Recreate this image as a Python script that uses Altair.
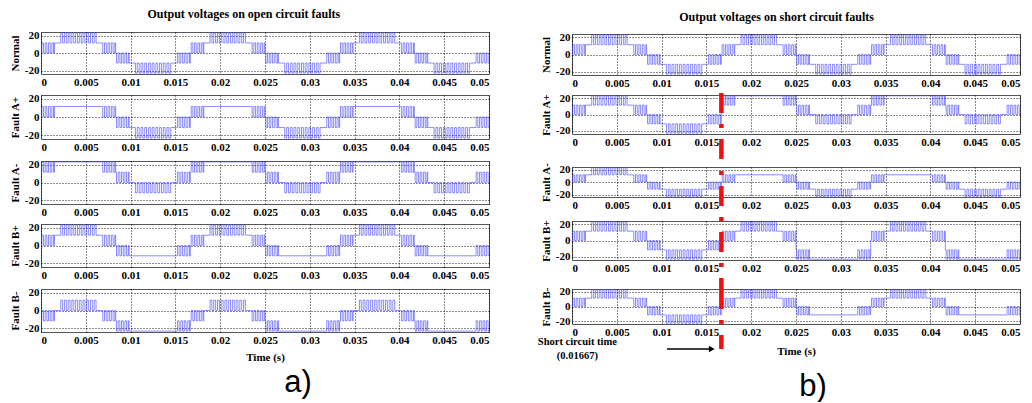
import altair as alt
import pandas as pd

# ---------------- data ----------------
T_MAX = 0.05
FAULT_T = 0.01667
HALF_MS = 8.3333                       # half period of the 60 Hz output (ms)
SEG_EDGES_MS = [0.0, 1.5, 2.1, 6.25, 6.8, 8.3333]   # switching bands inside a half cycle
SEG_PULSES = [4, 0, 10, 0, 4]          # PWM pulses seen in each band
L1 = 11.5
L2 = 23.0

# (resting level, pulse level) for the five bands of one half cycle
HALF_KINDS = {
    "P":  [(0, L1), (L1, L1), (L1, L2), (L1, L1), (L1, 0)],
    "N":  [(0, -L1), (-L1, -L1), (-L1, -L2), (-L1, -L1), (-L1, 0)],
    "Pc": [(0, L1), (L1, L1), (L1, L1), (L1, L1), (L1, 0)],
    "Nc": [(0, -L1), (-L1, -L1), (-L1, -L1), (-L1, -L1), (-L1, 0)],
    "Pu": [(L1, L2), (L2, L2), (L2, L2), (L2, L2), (L2, L1)],
    "Nu": [(L1, 0), (0, 0), (0, -L1), (0, 0), (0, L1)],
    "Pd": [(-L1, 0), (0, 0), (0, L1), (0, 0), (0, -L1)],
    "Nd": [(-L1, -L2), (-L2, -L2), (-L2, -L2), (-L2, -L2), (-L2, -L1)],
}

ROW_LABELS = ["Normal", "Fault A+", "Fault A-", "Fault B+", "Fault B-"]
OPEN_HALVES = [
    ["P", "N", "P", "N", "P", "N"],
    ["Pc", "N", "Pc", "N", "Pc", "N"],
    ["Pu", "Nu", "Pu", "Nu", "Pu", "Nu"],
    ["P", "Nc", "P", "Nc", "P", "Nc"],
    ["Pd", "Nd", "Pd", "Nd", "Pd", "Nd"],
]
SHORT_HALVES = [
    ["P", "N", "P", "N", "P", "N"],
    ["P", "N", "Pu", "Nu", "Pu", "Nu"],
    ["P", "N", "Pc", "N", "Pc", "N"],
    ["P", "N", "P", "Nd", "P", "Nd"],
    ["P", "N", "P", "Nc", "P", "Nc"],
]
X_TICKS = [0, 0.005, 0.01, 0.015, 0.02, 0.025, 0.03, 0.035, 0.04, 0.045, 0.05]
Y_TICKS = [-20, 0, 20]
ANNOT_TEXT = "Short circuit time\n(0.01667)"
ANNOT_X = 0.0006
ARROW_FROM = 0.0106
ARROW_TO = 0.0156

# ---------------- layout / style ----------------
W = 448
LEFT_H = [42, 44, 43, 43, 43]
LEFT_GAPS = [21, 22, 20, 22]
RIGHT_H = [41, 39, 30, 39, 35]
RIGHT_GAPS = [20, 33, 24, 29]
RIGHT_TOP = 2
# fault line pieces per right row: (local y from, local y to, dash offset)
FAULT_PIECES = {1: (-4, 72, 44), 2: (0, 54, 27), 3: (0, 68, 35), 4: (0, 60, 0)}
SERIF = "Liberation Serif"
BLUE = "#3c3cff"
RED = "#f01010"


def waveform(halves):
    pts = []
    for h, kind in enumerate(halves):
        base_t = h * HALF_MS
        for s, (base, peak) in enumerate(HALF_KINDS[kind]):
            t0 = (base_t + SEG_EDGES_MS[s]) / 1000.0
            t1 = (base_t + SEG_EDGES_MS[s + 1]) / 1000.0
            n = SEG_PULSES[s]
            pts.append((t0, base))
            if n and base != peak:
                w = (t1 - t0) / n
                for k in range(n):
                    a = t0 + (k + 0.25) * w
                    b = t0 + (k + 0.75) * w
                    pts += [(a, base), (a, peak), (b, peak), (b, base)]
            pts.append((t1, base))
    return pd.DataFrame({"i": list(range(len(pts))),
                         "t": [p[0] for p in pts],
                         "v": [p[1] for p in pts]})


def spacer(h):
    return alt.Chart(pd.DataFrame({"t": [0]})).mark_point(opacity=0).encode(
        x=alt.value(0), y=alt.value(0)
    ).properties(width=W, height=h, view=alt.ViewBackground(stroke="transparent"))


def row(halves, label, height, bottom, extra=None, xtitle_pad=6):
    x_axis = alt.Axis(values=X_TICKS, labelExpr="'' + datum.value",
                      title="Time (s)" if bottom else None, titlePadding=xtitle_pad)
    y_axis = alt.Axis(values=Y_TICKS, labelExpr="'' + datum.value", title=label)
    line = alt.Chart(waveform(halves)).mark_line(
        color=BLUE, strokeWidth=0.7, opacity=0.85
    ).encode(
        x=alt.X("t:Q", scale=alt.Scale(domain=[0, T_MAX], nice=False, zero=False), axis=x_axis),
        y=alt.Y("v:Q", scale=alt.Scale(domain=[-24, 24], nice=False), axis=y_axis),
        order="i:Q",
    )
    layers = [line] + (extra or [])
    return alt.layer(*layers).properties(width=W, height=height)


def fault_piece(y0, y1, off):
    return alt.Chart(pd.DataFrame({"t": [FAULT_T]})).mark_rule(
        color=RED, strokeWidth=4.5, strokeDash=[20, 11, 4, 11], strokeDashOffset=off
    ).encode(x="t:Q", y=alt.value(y0), y2=alt.value(y1))


def annotations():
    arrow = alt.Chart(pd.DataFrame({"t": [ARROW_FROM], "t2": [ARROW_TO]})).mark_rule(
        color="black", strokeWidth=1.6
    ).encode(x="t:Q", x2="t2:Q", y=alt.value(60))
    head = alt.Chart(pd.DataFrame({"t": [ARROW_TO]})).mark_point(
        shape="triangle-right", filled=True, color="black", size=45, opacity=1
    ).encode(x="t:Q", y=alt.value(60))
    txt = alt.Chart(pd.DataFrame({"t": [ANNOT_X], "label": [ANNOT_TEXT]})).mark_text(
        font=SERIF, fontWeight="bold", fontSize=10.5, lineBreak="\n", lineHeight=14,
        baseline="top", align="center", color="black"
    ).encode(x="t:Q", y=alt.value(48), text="label:N")
    return [arrow, head, txt]


# ---------------- left panel ----------------
left_rows = []
for k in range(5):
    r = row(OPEN_HALVES[k], ROW_LABELS[k], LEFT_H[k], k == 4, xtitle_pad=6)
    if k == 4:
        r = r.properties(title=alt.TitleParams(
            "a)", orient="bottom", anchor="middle", font="Liberation Sans", fontSize=31,
            fontWeight="normal", color="black", dx=33, offset=6))
    left_rows.append(r)
    if k < 4:
        left_rows.append(spacer(LEFT_GAPS[k]))

left = alt.vconcat(*left_rows, spacing=0, bounds="flush").properties(
    title=alt.TitleParams("Output voltages on open circuit faults", font=SERIF,
                          anchor="middle", fontSize=12, fontWeight="bold",
                          color="black", dx=-6, offset=8))

# ---------------- right panel ----------------
right_rows = [spacer(RIGHT_TOP)]
for k in range(5):
    extra = []
    if k in FAULT_PIECES:
        extra.append(fault_piece(*FAULT_PIECES[k]))
    if k == 4:
        extra += annotations()
    r = row(SHORT_HALVES[k], ROW_LABELS[k], RIGHT_H[k], k == 4, extra, xtitle_pad=8)
    if k == 4:
        r = r.properties(title=alt.TitleParams(
            "b)", orient="bottom", anchor="middle", font="Liberation Sans", fontSize=31,
            fontWeight="normal", color="black", dx=17, offset=10))
    right_rows.append(r)
    if k < 4:
        right_rows.append(spacer(RIGHT_GAPS[k]))

right = alt.vconcat(*right_rows, spacing=0, bounds="flush").properties(
    title=alt.TitleParams("Output voltages on short circuit faults", font=SERIF,
                          anchor="middle", fontSize=12, fontWeight="bold",
                          color="black", dx=-3, dy=3, offset=8))

chart = alt.hconcat(left, right, spacing=46).properties(
    padding=0, background="white"
).configure_view(
    stroke="#555555", strokeWidth=1
).configure_axis(
    labelFont=SERIF, labelFontWeight="bold", labelFontSize=11, labelColor="black",
    titleFont=SERIF, titleFontWeight="bold", titleFontSize=11, titleColor="black",
    domain=False, ticks=False, labelPadding=2, titlePadding=4,
    grid=True, gridColor="black", gridDash=[1, 2], gridWidth=1, gridOpacity=0.9,
)

chart.save("out.html", embed_options={"renderer": "svg", "actions": False})
